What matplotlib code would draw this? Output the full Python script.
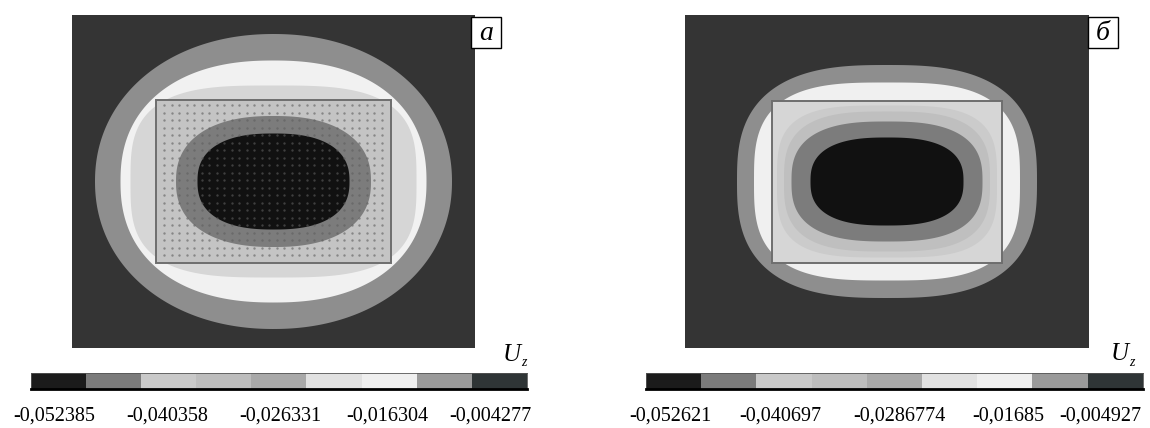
import numpy as np
import matplotlib
matplotlib.use("Agg")
import matplotlib.pyplot as plt
from matplotlib.colors import ListedColormap
from matplotlib.patches import Rectangle

W, H = 1150, 428

# ---------------- data ----------------
panel_labels = ["а", "б"]

# contour bands (outer -> inner): half-width, half-height (px), superellipse exponent, grey colour
bands_a_halfw = [178.5, 153.0, 143.0, 97.5, 76.0]
bands_a_halfh = [147.5, 121.0, 96.0, 65.5, 48.0]
bands_a_exp = [2.1, 2.3, 3.2, 2.35, 2.45]
bands_a_col = ["#8e8e8e", "#f1f1f1", "#d6d6d6", "#7c7c7c", "#111111"]
plate_a = (117.5, 81.5)  # plate half-size (px)

bands_b_halfw = [150.0, 133.0, 110.0, 103.0, 95.5, 76.5]
bands_b_halfh = [116.5, 99.0, 76.0, 70.0, 60.0, 44.0]
bands_b_exp = [2.75, 3.1, 3.4, 3.0, 2.7, 2.6]
bands_b_col = ["#8e8e8e", "#f0f0f0", "#cbcbcb", "#bfbfbf", "#7c7c7c", "#111111"]
plate_b = (115.0, 81.0)

# colour scale segments (same for both panels)
scale_colors = ["#1b1b1b", "#7b7b7b", "#c9c9c9", "#bdbdbd", "#a9a9a9",
                "#e1e1e1", "#efefef", "#9a9a9a", "#2f3536"]
ticks_a = ["-0,052385", "-0,040358", "-0,026331", "-0,016304", "-0,004277"]
ticks_b = ["-0,052621", "-0,040697", "-0,0286774", "-0,01685", "-0,004927"]
tick_x_a = [54.5, 167.5, 280.5, 387.0, 490.5]
tick_x_b = [670.0, 780.5, 899.5, 1008.0, 1100.0]

# ---------------- layout (pixels) ----------------
panels = [
    dict(box=(72, 15, 403, 333), halfw=bands_a_halfw, halfh=bands_a_halfh,
         exp=bands_a_exp, col=bands_a_col, plate=plate_a, plate_after=3,
         plate_fill="#c4c4c4", dots=True, lab_box=(471, 17, 30, 31),
         cbar=(31, 373, 496, 16), ticks=ticks_a, tick_x=tick_x_a, uz=(503, 355)),
    dict(box=(685, 15, 404, 333), halfw=bands_b_halfw, halfh=bands_b_halfh,
         exp=bands_b_exp, col=bands_b_col, plate=plate_b, plate_after=2,
         plate_fill="#d6d6d6", dots=False, lab_box=(1088, 17, 30, 31),
         cbar=(646, 373, 497, 16), ticks=ticks_b, tick_x=tick_x_b, uz=(1111, 354)),
]


def fx(x):
    return x / W


def fy(y):
    return 1 - y / H


def superellipse(a, b, n, m=400):
    t = np.linspace(0, 2 * np.pi, m)
    c, s = np.cos(t), np.sin(t)
    return a * np.sign(c) * np.abs(c) ** (2 / n), b * np.sign(s) * np.abs(s) ** (2 / n)


fig = plt.figure(figsize=(W / 100, H / 100), dpi=100)
fig.patch.set_facecolor("white")
serif = "Liberation Serif"

for i, p in enumerate(panels):
    x0, y0, w, h = p["box"]
    ax = fig.add_axes([fx(x0), fy(y0 + h), w / W, h / H])
    ax.set_xlim(-w / 2, w / 2)
    ax.set_ylim(-h / 2, h / 2)
    ax.set_facecolor("#343434")
    ax.set_xticks([])
    ax.set_yticks([])
    for sp in ax.spines.values():
        sp.set_visible(False)

    for k, (a, b, n, c) in enumerate(zip(p["halfw"], p["halfh"], p["exp"], p["col"])):
        if k == p["plate_after"]:
            pa, pb = p["plate"]
            ax.add_patch(Rectangle((-pa, -pb), 2 * pa, 2 * pb, facecolor=p["plate_fill"],
                                   edgecolor="none", zorder=k + 0.5))
        xs, ys = superellipse(a, b, n)
        ax.fill(xs, ys, color=c, lw=0, zorder=k + 1)

    pa, pb = p["plate"]
    ax.add_patch(Rectangle((-pa, -pb), 2 * pa, 2 * pb, facecolor="none",
                           edgecolor="#6e6e6e", lw=1.4, zorder=20))
    if p["dots"]:
        gx, gy = np.meshgrid(np.arange(-pa + 8, pa - 4, 7.5), np.arange(-pb + 8, pb - 4, 7.5))
        ax.scatter(gx.ravel(), gy.ravel(), s=3.0, c="#5e5e5e", alpha=0.6,
                   linewidths=0, zorder=21)

    # panel letter box
    bx, by, bw, bh = p["lab_box"]
    fig.patches.append(Rectangle((fx(bx), fy(by + bh)), bw / W, bh / H,
                                 transform=fig.transFigure, facecolor="white",
                                 edgecolor="black", lw=1.0, zorder=30))
    fig.text(fx(bx + bw / 2), fy(by + bh / 2 + 1), panel_labels[i], ha="center",
             va="center", family=serif, style="italic", fontsize=20, zorder=31)

    # colour scale
    cx, cy, cw, ch = p["cbar"]
    cax = fig.add_axes([fx(cx), fy(cy + ch), cw / W, ch / H])
    cax.imshow(np.arange(len(scale_colors))[None, :], cmap=ListedColormap(scale_colors),
               aspect="auto", interpolation="nearest")
    cax.set_xticks([])
    cax.set_yticks([])
    for name, sp in cax.spines.items():
        sp.set_color("#555555")
        sp.set_linewidth(0.6)
    cax.spines["bottom"].set_color("black")
    cax.spines["bottom"].set_linewidth(2.0)

    for tx, lab in zip(p["tick_x"], p["ticks"]):
        fig.text(fx(tx), fy(416), lab, ha="center", va="center", family=serif, fontsize=14.5)

    ux, uy = p["uz"]
    fig.text(fx(ux), fy(uy), "U", ha="left", va="center", family=serif,
             style="italic", fontsize=18)
    fig.text(fx(ux + 18), fy(uy + 8), "z", ha="left", va="center", family=serif,
             style="italic", fontsize=10)

fig.savefig("out.png", dpi=100, facecolor="white")
